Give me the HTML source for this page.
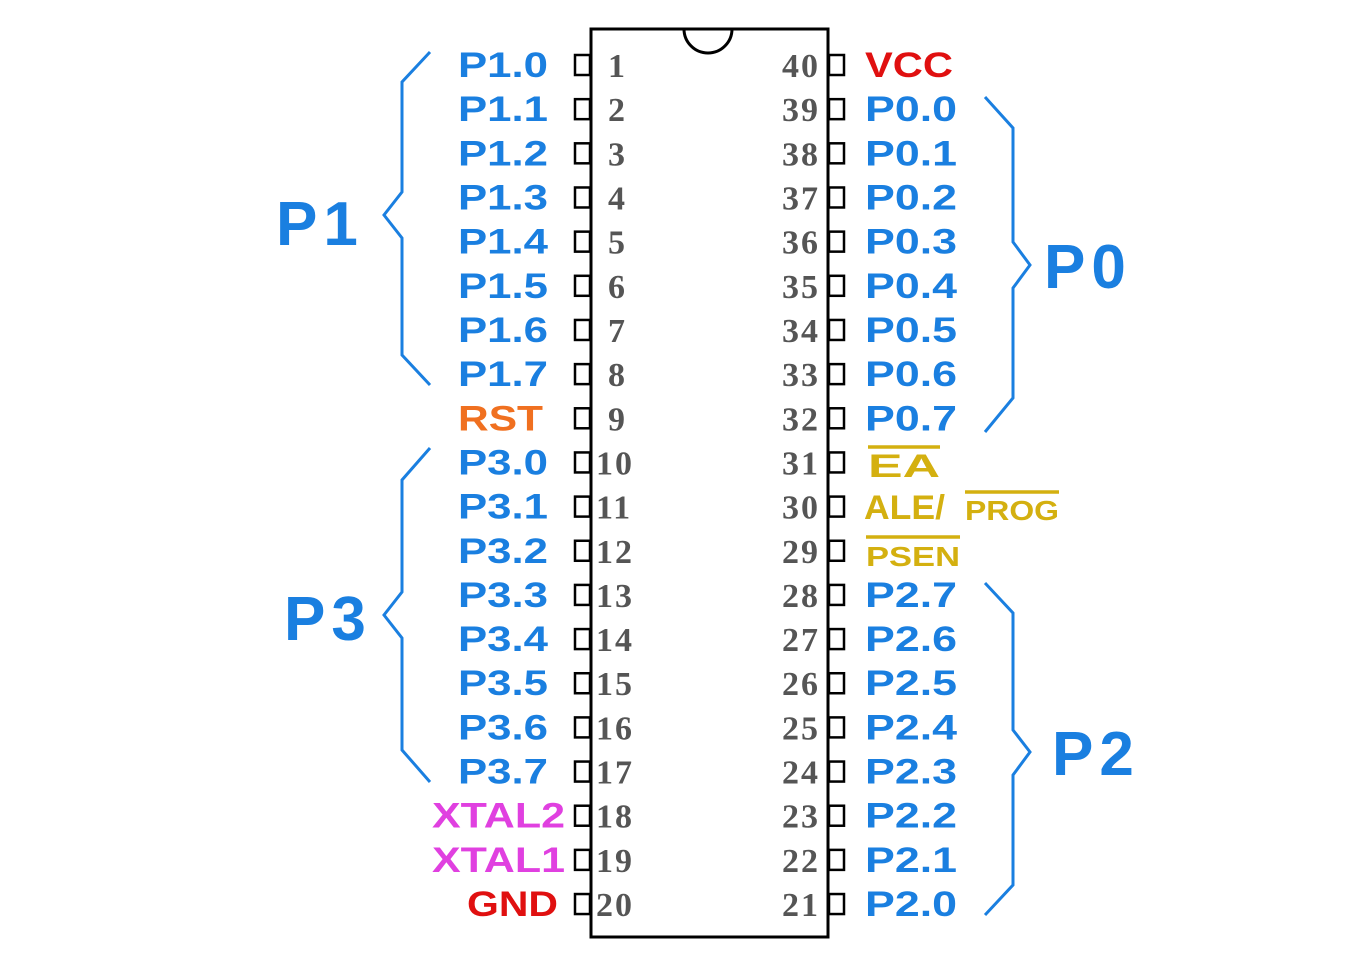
<!DOCTYPE html>
<html><head><style>body{margin:0;background:#fff}svg{display:block}</style></head><body>
<svg width="1371" height="953" xmlns="http://www.w3.org/2000/svg">
<rect x="591" y="29" width="237" height="908" fill="none" stroke="#000" stroke-width="3"/>
<path d="M684 29 A24 24 0 0 0 732 29" fill="none" stroke="#000" stroke-width="3"/>
<g id="pins" fill="none" stroke="#000" stroke-width="2.5"></g>
<g id="txt"></g>
<g fill="none" stroke="#1a7fe0" stroke-width="3">
<path d="M430 52 L402 82 L402 192 L384 215 L402 238 L402 355 L430 385"/>
<path d="M430 448 L402 480 L402 592 L384 615 L402 638 L402 750 L430 782"/>
<path d="M985 97 L1013 128 L1013 242 L1030 265 L1013 288 L1013 398 L985 432"/>
<path d="M985 583 L1013 613 L1013 730 L1030 752 L1013 775 L1013 885 L985 915"/>
</g>
<g font-family="Liberation Sans, sans-serif" font-weight="bold" font-size="62" fill="#1a7fe0" letter-spacing="6">
<text x="276" y="245">P1</text><text x="284" y="640">P3</text>
<text x="1044" y="288">P0</text><text x="1052" y="775">P2</text>
</g>
<g font-family="Liberation Sans, sans-serif" font-weight="bold" fill="#d4b010" lengthAdjust="spacingAndGlyphs">
<text x="868" y="477" font-size="32" textLength="72" lengthAdjust="spacingAndGlyphs">EA</text><line x1="868" y1="447" x2="940" y2="447" stroke="#d4b010" stroke-width="3.5"/>
<text x="864" y="519" font-size="34" textLength="81" lengthAdjust="spacingAndGlyphs">ALE/</text>
<text x="965" y="520" font-size="28" textLength="94" lengthAdjust="spacingAndGlyphs">PROG</text><line x1="965" y1="492" x2="1059" y2="492" stroke="#d4b010" stroke-width="3.5"/>
<text x="866" y="566" font-size="28" textLength="94" lengthAdjust="spacingAndGlyphs">PSEN</text><line x1="866" y1="537" x2="960" y2="537" stroke="#d4b010" stroke-width="3.5"/>
</g>
<script>
var ns="http://www.w3.org/2000/svg",P=document.getElementById("pins"),T=document.getElementById("txt");
function el(t,a,p,s){var e=document.createElementNS(ns,t);for(var k in a)e.setAttribute(k,a[k]);if(s)e.textContent=s;p.appendChild(e);}
var L=["P1.0","P1.1","P1.2","P1.3","P1.4","P1.5","P1.6","P1.7","RST","P3.0","P3.1","P3.2","P3.3","P3.4","P3.5","P3.6","P3.7","XTAL2","XTAL1","GND"];
var R=["VCC","P0.0","P0.1","P0.2","P0.3","P0.4","P0.5","P0.6","P0.7","","","","P2.7","P2.6","P2.5","P2.4","P2.3","P2.2","P2.1","P2.0"];
for(var i=0;i<20;i++){var y=65+44.16*i;
el("rect",{x:575,y:y-10,width:15,height:20},P);
el("rect",{x:829,y:y-10,width:15,height:20},P);
var n=i+1;el("text",{x:n<10?608:596,y:y+12,"font-family":"Liberation Serif, serif","font-weight":"bold","font-size":"34",fill:"#555","letter-spacing":"2"},T,""+n);
el("text",{x:820,y:y+12,"text-anchor":"end","font-family":"Liberation Serif, serif","font-weight":"bold","font-size":"34",fill:"#555","letter-spacing":"2"},T,""+(40-i));
var l=L[i],c="#1a7fe0",x=458,w=90;
if(l=="RST"){c="#f07020";w=85;}if(l.indexOf("XTAL")==0){c="#e040e0";x=432;w=133;}if(l=="GND"){c="#e01010";x=467;w=91;}
el("text",{x:x,y:y+12,"font-family":"Liberation Sans, sans-serif","font-weight":"bold","font-size":"35",fill:c,textLength:w,lengthAdjust:"spacingAndGlyphs"},T,l);
var r=R[i];if(r){el("text",{x:865,y:y+12,"font-family":"Liberation Sans, sans-serif","font-weight":"bold","font-size":"35",fill:r=="VCC"?"#e01010":"#1a7fe0",textLength:r=="VCC"?88:92,lengthAdjust:"spacingAndGlyphs"},T,r);}
}
</script>
</svg>
</body></html>
